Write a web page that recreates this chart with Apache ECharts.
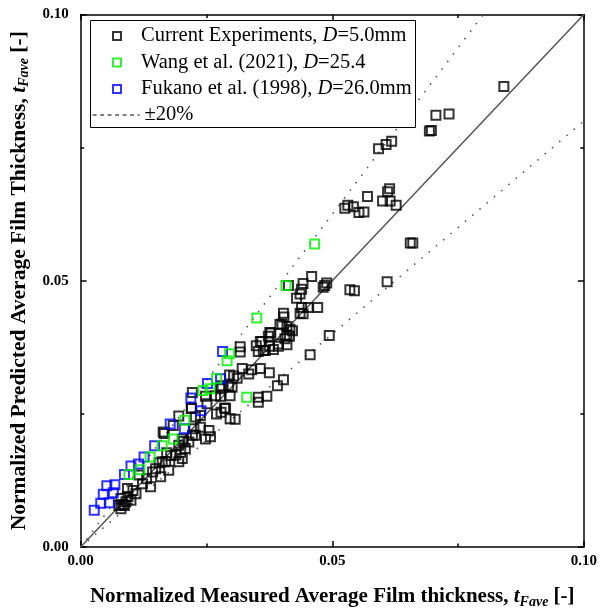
<!DOCTYPE html>
<html><head><meta charset="utf-8">
<script src="https://cdn.jsdelivr.net/npm/echarts@6/dist/echarts.min.js"></script>
<style>html,body{margin:0;padding:0;background:#fff}#c{width:600px;height:614px}</style>
</head><body><div id="c"></div>
<script>
// ---- data ----
const currentPts = [
[0.0841,0.0865],
[0.0706,0.0811],[0.0732,0.0813],[0.0693,0.0781],[0.0697,0.0782],
[0.0592,0.0748],[0.0607,0.0756],[0.0618,0.0762],
[0.0570,0.0658],[0.0614,0.0673],[0.0610,0.0667],[0.0600,0.0650],[0.0615,0.0650],[0.0627,0.0642],
[0.0525,0.0636],[0.0531,0.0642],[0.0542,0.0639],[0.0553,0.0628],[0.0563,0.0629],
[0.0660,0.0571],[0.0655,0.0571],
[0.0609,0.0498],[0.0535,0.0483],[0.0544,0.0481],
[0.0459,0.0508],[0.0413,0.0491],[0.0442,0.0495],[0.0439,0.0484],[0.0436,0.0475],[0.0429,0.0467],
[0.0485,0.0491],[0.0489,0.0496],[0.0482,0.0488],
[0.0439,0.0450],[0.0452,0.0450],[0.0471,0.0450],[0.0442,0.0438],[0.0436,0.0439],[0.0403,0.0439],[0.0404,0.0432],
[0.0396,0.0418],[0.0410,0.0414],[0.0416,0.0409],[0.0421,0.0406],[0.0378,0.0402],[0.0373,0.0396],[0.0410,0.0398],[0.0415,0.0396],[0.0406,0.0391],
[0.0360,0.0386],[0.0393,0.0381],[0.0410,0.0380],[0.0494,0.0397],[0.0317,0.0376],[0.0376,0.0403],[0.0357,0.0386],[0.0349,0.0378],[0.0363,0.0369],[0.0353,0.0367],[0.0375,0.0377],[0.0393,0.0377],[0.0383,0.0371],[0.0317,0.0366],
[0.0321,0.0335],[0.0357,0.0335],[0.0375,0.0327],[0.0340,0.0333],[0.0334,0.0325],[0.0304,0.0321],[0.0311,0.0317],[0.0294,0.0303],[0.0301,0.0300],[0.0278,0.0297],[0.0403,0.0314],[0.0391,0.0303],
[0.0222,0.0290],[0.0248,0.0283],[0.0353,0.0281],[0.0370,0.0283],[0.0353,0.0272],[0.0297,0.0284],[0.0278,0.0283],[0.0456,0.0361],[0.0296,0.0323],[0.0281,0.0303],[0.0268,0.0284],
[0.0220,0.0261],[0.0251,0.0269],[0.0288,0.0260],[0.0297,0.0241],[0.0307,0.0240],[0.0279,0.0253],[0.0195,0.0246],[0.0228,0.0244],[0.0238,0.0225],[0.0255,0.0219],[0.0258,0.0207],[0.0228,0.0210],
[0.0164,0.0216],[0.0184,0.0228],[0.0202,0.0203],[0.0208,0.0185],[0.0215,0.0197],[0.0179,0.0172],[0.0189,0.0173],[0.0195,0.0160],[0.0156,0.0158],[0.0195,0.0191],[0.0199,0.0178],[0.0171,0.0177],[0.0162,0.0160],[0.0175,0.0144],[0.0149,0.0147],[0.0143,0.0141],[0.0116,0.0135],[0.0123,0.0119],[0.0110,0.0100],[0.0100,0.0088],[0.0087,0.0078],[0.0080,0.0072],[0.0080,0.0091],[0.0093,0.0110],
[0.0084,0.0080],[0.0090,0.0085],[0.0076,0.0078],[0.0094,0.0095],[0.0104,0.0106],[0.0131,0.0128],[0.0159,0.0132],[0.0139,0.0113],
[0.0286,0.0261],[0.0238,0.0247],[0.0248,0.0203],[0.0225,0.0222],[0.0222,0.0210],[0.0204,0.0198],[0.0202,0.0166],[0.0169,0.0160],[0.0166,0.0213],[0.0220,0.0260],[0.0270,0.0250],[0.0400,0.0419],[0.0367,0.0369]
];
const wangPts = [
[0.0465,0.0569],[0.0408,0.0491],[0.0350,0.0430],[0.0296,0.0363],[0.0291,0.0350],[0.0270,0.0316],[0.0257,0.0297],[0.0243,0.0294],
[0.0330,0.0281],[0.0207,0.0238],[0.0184,0.0203],[0.0162,0.0190],[0.0138,0.0169],[0.0118,0.0145],[0.0096,0.0136]
];
const fukanoPts = [
[0.0282,0.0367],[0.0278,0.0316],[0.0252,0.0307],[0.0219,0.0280],[0.0239,0.0256],[0.0178,0.0231],[0.0206,0.0222],
[0.0147,0.0190],[0.0126,0.0169],[0.0115,0.0156],[0.0100,0.0152],[0.0087,0.0136],[0.0068,0.0117],[0.0052,0.0115],
[0.0065,0.0102],[0.0045,0.0099],[0.0057,0.0083],[0.0040,0.0082],[0.0027,0.0069]
];
const diagLine = [[0,0],[0.1,0.1]];
const upperLine = [[0,0],[0.08,0.1]];
const lowerLine = [[0,0],[0.1,0.08]];
const tickLabels = ['0.00','0.05','0.10'];
const seriesNames = ['Current Experiments','Wang et al. (2021)','Fukano et al. (1998)','±20%'];
const legendTexts = {
  'Current Experiments': '{n|Current Experiments, }{i|D}{n|=5.0mm}',
  'Wang et al. (2021)': '{n|Wang et al. (2021), }{i|D}{n|=25.4}',
  'Fukano et al. (1998)': '{n|Fukano et al. (1998), }{i|D}{n|=26.0mm}',
  '±20%': '{n|±20%}'
};
const xTitle = '{b|Normalized Measured Average Film thickness, }{t|t}{s|Fave}{b| [-]}';
const yTitle = '{b|Normalized Predicted Average Film Thickness, }{t|t}{s|Fave}{b| [-]}';

// ---- chart ----
const FONT = '"Liberation Serif","Times New Roman",serif';
const chart = echarts.init(document.getElementById('c'), null, {renderer:'canvas'});
const mkRich = (fs)=>({
  b:{fontFamily:FONT,fontWeight:'bold',fontSize:fs,color:'#000'},
  t:{fontFamily:FONT,fontWeight:'bold',fontStyle:'italic',fontSize:fs,color:'#000'},
  s:{fontFamily:FONT,fontWeight:'bold',fontStyle:'italic',fontSize:Math.round(fs*0.67),color:'#000',padding:[11,0,0,0]}
});
const legendRich = {
  n:{fontFamily:FONT,fontSize:20.5,color:'#000',lineHeight:20},
  i:{fontFamily:FONT,fontSize:20.5,fontStyle:'italic',color:'#000',lineHeight:20}
};
function mkAxis(pos, showLabel, name, nameGap, fs){
  return {
    type:'value', min:0, max:0.1, interval:0.05, position:pos,
    axisLine:{show:true,onZero:false,lineStyle:{color:'#000',width:1.5}},
    axisTick:{show:true,inside:true,length:6,lineStyle:{color:'#000',width:1.5}},
    minorTick:{show:true,splitNumber:2,length:3.5,lineStyle:{color:'#000',width:1.5}},
    splitLine:{show:false}, minorSplitLine:{show:false},
    axisLabel:{show:showLabel, fontFamily:FONT, fontWeight:'bold', fontSize:15, color:'#000',
      margin:(pos==='left'?12:7), formatter:v=>tickLabels[Math.round(v/0.05)]},
    name: name || '', nameLocation:'middle', nameGap: nameGap || 0,
    nameTextStyle:{rich:mkRich(fs||21)}
  };
}
const sq = (c)=>({symbol:'rect',symbolSize:9,itemStyle:{color:'rgba(0,0,0,0)',borderColor:c,borderWidth:2}});
const option = {
  animation:false,
  backgroundColor:'#fff',
  grid:{left:79,top:14.5,width:506.5,height:534},
  xAxis:[mkAxis('bottom',true,xTitle,37,21), mkAxis('top',false)],
  yAxis:[mkAxis('left',true,yTitle,46,21.5), mkAxis('right',false)],
  graphic:[{type:'rect',z:5,shape:{x:90.5,y:20.5,width:325,height:107},style:{fill:'#fff',stroke:'#000',lineWidth:1}}],
  legend:[{
    z:10, orient:'vertical', left:112, top:25.5, padding:0, itemWidth:8, itemHeight:8, itemGap:5.5,
    selectedMode:false, data:seriesNames.slice(0,3),
    formatter:n=>legendTexts[n],
    textStyle:{rich:legendRich, padding:[0,0,0,15]}
  },{
    z:10, orient:'vertical', left:92, top:104.5, padding:0, itemWidth:47, itemHeight:10,
    selectedMode:false,
    data:[{name:seriesNames[3], itemStyle:{opacity:0}, lineStyle:{color:'#000',width:1.2,type:[4,3.5]}}],
    formatter:n=>legendTexts[n],
    textStyle:{rich:legendRich, padding:[0,0,0,0]}
  }],
  series:[
    {type:'line',data:diagLine,symbol:'none',silent:true,z:1,lineStyle:{color:'#555',width:1.5}},
    {name:seriesNames[3],type:'line',data:upperLine,symbol:'none',silent:true,z:1,lineStyle:{color:'#555',width:1.6,type:[1.5,8]}},
    {name:seriesNames[3],type:'line',data:lowerLine,symbol:'none',silent:true,z:1,lineStyle:{color:'#555',width:1.6,type:[1.5,8]}},
    Object.assign({name:seriesNames[0],type:'scatter',data:currentPts,z:2}, sq('#000')),
    Object.assign({name:seriesNames[2],type:'scatter',data:fukanoPts,z:3}, sq('#0000ff')),
    Object.assign({name:seriesNames[1],type:'scatter',data:wangPts,z:4}, sq('#00ee00'))
  ]
};
chart.setOption(option);
</script>
</body></html>
